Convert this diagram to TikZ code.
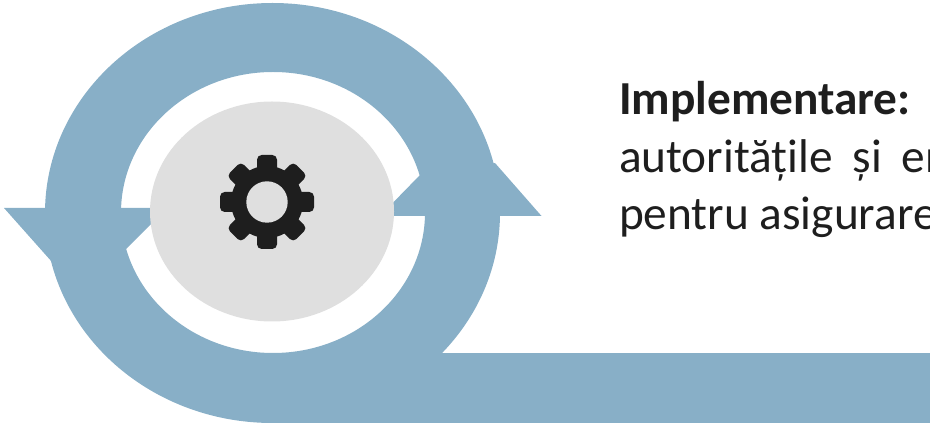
\documentclass[tikz,border=0pt]{standalone}
\usepackage{fontspec}
\setmainfont{Carlito}
\definecolor{bandblue}{HTML}{88AFC7}
\definecolor{discgrey}{HTML}{DFDFDF}
\definecolor{inkdark}{HTML}{1E1E1E}
\tikzset{
  band/.style={fill=bandblue,draw=none},
  disc/.style={fill=discgrey,draw=none},
  gearpart/.style={fill=inkdark,draw=none},
  bodytext/.style={anchor=base west,inner sep=0pt,outer sep=0pt,text=inkdark,font=\fontsize{35.5pt}{42pt}\selectfont}
}
\begin{document}
\begin{tikzpicture}[x=0.75pt,y=-0.75pt]
\useasboundingbox (0,0) rectangle (930,423);
% ring
\fill[band,even odd rule] (272.5,213) ellipse [x radius=227.5,y radius=210]
      (273,212.5) ellipse [x radius=152,y radius=140.5];
% tail
\fill[band] (272,353) -- (930,353) -- (930,423) -- (272,423) -- cycle;
% arrowheads
\fill[band] (4,208) -- (52,262) -- (126,249) -- (167,208) -- cycle;
\fill[band] (541.5,216) -- (495,163) -- (420,175) -- (380,216) -- cycle;
% disc
\fill[disc] (272,211.5) ellipse [x radius=122,y radius=110];
% gear
\foreach \a in {0,45,...,315}{
  \fill[gearpart,rounded corners=3.5pt,rotate around={\a:(267,202)}]
     (257,155) rectangle (277,190);
}
\fill[gearpart] (267,202) circle [radius=36];
\fill[disc] (267,202) circle [radius=20.7];
% text
\node[bodytext] (title) at (619,115) {\textbf{Implementare:}};
\node[bodytext] (linetwo) at (619,173) {autorităț{}ile\hspace{0.42em}și\hspace{0.42em}en};
\node[bodytext] (linethree) at (619,230) {pentru asigurare};
\end{tikzpicture}
\end{document}
